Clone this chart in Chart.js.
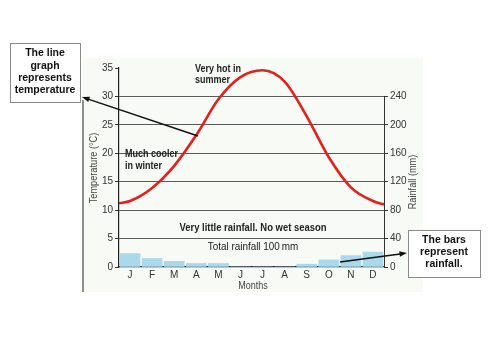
<!DOCTYPE html>
<html lang="en">
<head>
    <meta charset="UTF-8">
    <title>Climate graph</title>
    <script src="https://cdn.jsdelivr.net/npm/chart.js"></script>
    <style>
        body { margin: 0; padding: 0; background: #fff; }
        #wrap { width: 500px; height: 354px; position: relative; }
    </style>
</head>
<body>
    <div id="wrap"><canvas id="climateChart" width="500" height="354"></canvas></div>

    <script>
        const months = ['J', 'F', 'M', 'A', 'M', 'J', 'J', 'A', 'S', 'O', 'N', 'D'];
        // rainfall per month (mm), right axis
        const rainfall = [19, 12, 8, 5, 5, 0, 0, 0, 4, 10, 16, 21];
        // temperature curve: position along the month axis (0 = left edge, 12 = right edge) and value in °C
        const tempPos = [0, 0.5, 1.5, 2.5, 3.5, 4.5, 5.5, 6.5, 7.5, 8.5, 9.5, 10.5, 11.5, 12];
        const tempVal = [11.2, 11.6, 13.9, 17.8, 23.2, 29.5, 33.4, 34.6, 32.6, 26.5, 19.3, 14.0, 11.6, 11.0];
        const tempTicks = [0, 5, 10, 15, 20, 25, 30, 35];
        const rainTicks = [0, 40, 80, 120, 160, 200, 240];

        const FONT = '"Liberation Sans", Arial, sans-serif';

        // text squeezed horizontally, the scan uses a condensed face
        function narrowText(ctx, text, x, y, sx, align) {
            ctx.save();
            ctx.translate(x, y);
            ctx.scale(sx, 1);
            ctx.textAlign = align;
            ctx.fillText(text, 0, 0);
            ctx.restore();
        }

        function drawArrow(ctx, x1, y1, x2, y2) {
            const a = Math.atan2(y2 - y1, x2 - x1);
            ctx.save();
            ctx.strokeStyle = '#111';
            ctx.fillStyle = '#111';
            ctx.lineWidth = 1.5;
            ctx.beginPath();
            ctx.moveTo(x1, y1);
            ctx.lineTo(x2 - 5 * Math.cos(a), y2 - 5 * Math.sin(a));
            ctx.stroke();
            ctx.beginPath();
            ctx.moveTo(x2, y2);
            ctx.lineTo(x2 - 8 * Math.cos(a - 0.35), y2 - 8 * Math.sin(a - 0.35));
            ctx.lineTo(x2 - 8 * Math.cos(a + 0.35), y2 - 8 * Math.sin(a + 0.35));
            ctx.closePath();
            ctx.fill();
            ctx.restore();
        }

        function drawBox(ctx, x, y, w, h, lines, lineY) {
            ctx.save();
            ctx.fillStyle = '#fff';
            ctx.fillRect(x, y, w, h);
            ctx.strokeStyle = '#8a8a8a';
            ctx.lineWidth = 1;
            ctx.strokeRect(x + 0.5, y + 0.5, w, h);
            ctx.fillStyle = '#111';
            ctx.font = 'bold 10.5px ' + FONT;
            ctx.textAlign = 'center';
            ctx.textBaseline = 'middle';
            lines.forEach((t, i) => ctx.fillText(t, x + w / 2, lineY[i]));
            ctx.restore();
        }

        const decorations = {
            id: 'decorations',
            beforeDraw(chart) {
                const ctx = chart.ctx;
                ctx.save();
                ctx.fillStyle = '#f8faf6';
                ctx.fillRect(83, 58, 340, 234);
                ctx.strokeStyle = '#6a6a6a';
                ctx.lineWidth = 1.5;
                ctx.beginPath();
                ctx.moveTo(83, 100);
                ctx.lineTo(83, 292);
                ctx.stroke();
                ctx.restore();
            },
            afterDraw(chart) {
                const ctx = chart.ctx;
                const area = chart.chartArea;
                const yR = chart.scales.yRain;
                ctx.save();
                // right axis line only runs up to 240
                ctx.strokeStyle = '#333';
                ctx.lineWidth = 1;
                ctx.beginPath();
                ctx.moveTo(Math.round(area.right) + 0.5, yR.getPixelForValue(240));
                ctx.lineTo(Math.round(area.right) + 0.5, yR.getPixelForValue(0));
                ctx.stroke();

                ctx.fillStyle = '#222';
                ctx.textBaseline = 'middle';
                ctx.font = 'bold 11px ' + FONT;
                narrowText(ctx, 'Very hot in', 195, 69, 0.82, 'left');
                narrowText(ctx, 'summer', 195, 80, 0.82, 'left');
                narrowText(ctx, 'Much cooler', 125, 154, 0.82, 'left');
                narrowText(ctx, 'in winter', 125, 166, 0.82, 'left');
                narrowText(ctx, 'Very little rainfall. No wet season', 253, 228, 0.86, 'center');
                ctx.font = '11px ' + FONT;
                narrowText(ctx, 'Total rainfall 100\u2009mm', 253, 247, 0.9, 'center');
                ctx.font = '10px ' + FONT;
                ctx.fillStyle = '#444';
                narrowText(ctx, 'Months', 253, 286, 0.9, 'center');

                // axis titles
                ctx.save();
                ctx.translate(94, 168);
                ctx.rotate(-Math.PI / 2);
                ctx.scale(0.92, 1);
                ctx.textAlign = 'center';
                ctx.fillText('Temperature (\u00b0C)', 0, 0);
                ctx.restore();
                ctx.save();
                ctx.translate(413, 182);
                ctx.rotate(-Math.PI / 2);
                ctx.scale(0.92, 1);
                ctx.textAlign = 'center';
                ctx.fillText('Rainfall (mm)', 0, 0);
                ctx.restore();

                drawArrow(ctx, 198, 136, 82, 97);
                drawArrow(ctx, 340, 262, 407, 253);
                ctx.restore();

                drawBox(ctx, 10, 43, 70, 59, ['The line', 'graph', 'represents', 'temperature'], [53, 66, 78, 90]);
                drawBox(ctx, 408, 230, 72, 47, ['The bars', 'represent', 'rainfall.'], [240, 252, 264]);
            }
        };

        const ctx1 = document.getElementById('climateChart').getContext('2d');
        const climateChart = new Chart(ctx1, {
            type: 'bar',
            data: {
                labels: months,
                datasets: [
                    {
                        type: 'line',
                        label: 'Temperature',
                        data: tempPos.map((p, i) => ({ x: p, y: tempVal[i] })),
                        xAxisID: 'xt',
                        yAxisID: 'yTemp',
                        borderColor: '#e3201b',
                        borderWidth: 2.6,
                        pointRadius: 0,
                        cubicInterpolationMode: 'monotone',
                        fill: false,
                        order: 0
                    },
                    {
                        type: 'bar',
                        label: 'Rainfall',
                        data: rainfall,
                        xAxisID: 'x',
                        yAxisID: 'yRain',
                        backgroundColor: '#a9d9ea',
                        borderWidth: 0,
                        grouped: false,
                        barThickness: 20,
                        order: 1
                    }
                ]
            },
            options: {
                responsive: false,
                animation: false,
                layout: { padding: { top: 68, left: 0, right: 0, bottom: 0 } },
                plugins: { legend: { display: false }, tooltip: { enabled: false } },
                scales: {
                    x: {
                        type: 'category',
                        position: 'bottom',
                        offset: true,
                        grid: { display: false, drawTicks: false },
                        border: { display: true, color: '#222', width: 1.2 },
                        ticks: { color: '#333', font: { family: FONT, size: 10 }, padding: 2 },
                        afterFit(s) { s.height = 87; }
                    },
                    xt: {
                        type: 'linear',
                        display: false,
                        offset: false,
                        bounds: 'ticks',
                        min: 0,
                        max: 12
                    },
                    yTemp: {
                        position: 'left',
                        min: 0,
                        max: 35,
                        afterBuildTicks(s) { s.ticks = tempTicks.map(v => ({ value: v })); },
                        grid: {
                            color: c => (c.tick && c.tick.value > 0 && c.tick.value < 35) ? '#5a5a5a' : 'rgba(0,0,0,0)',
                            tickColor: '#333',
                            tickLength: 4,
                            lineWidth: 1
                        },
                        border: { display: true, color: '#222', width: 1.2 },
                        ticks: { color: '#333', font: { family: FONT, size: 10 }, padding: 2 },
                        afterFit(s) { s.width = 119; }
                    },
                    yRain: {
                        position: 'right',
                        min: 0,
                        max: 280,
                        afterBuildTicks(s) { s.ticks = rainTicks.map(v => ({ value: v })); },
                        grid: { drawOnChartArea: false, tickColor: '#333', tickLength: 4 },
                        border: { display: false },
                        ticks: { color: '#333', font: { family: FONT, size: 10 }, padding: 2 },
                        afterFit(s) { s.width = 116; }
                    }
                }
            },
            plugins: [decorations]
        });
    </script>
</body>
</html>
